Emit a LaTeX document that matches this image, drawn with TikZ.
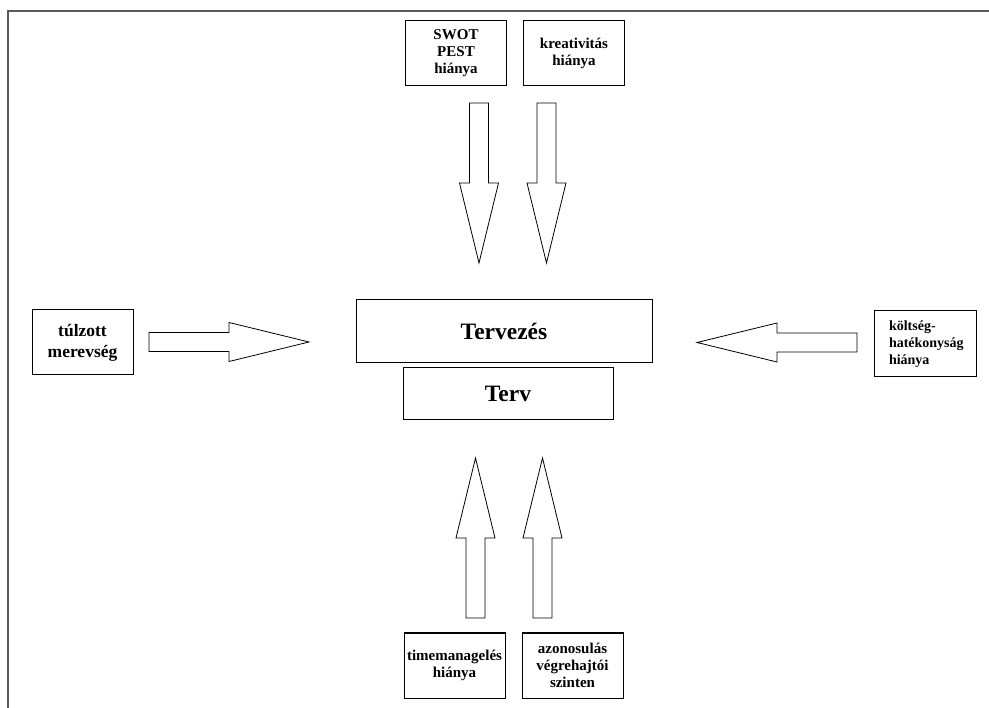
\documentclass[tikz,border=0pt]{standalone}
\usepackage{fontspec}
\setmainfont{Liberation Serif}
\usetikzlibrary{positioning}
\newcommand{\fatarrow}[2]{%
  \draw[fatline,shift={(#1)},rotate=#2] (0,-9.5) -- (80,-9.5) -- (80,-19.5)
    -- (160,0) -- (80,19.5) -- (80,9.5) -- (0,9.5) -- cycle;
}

\begin{document}
\begin{tikzpicture}[x=1pt,y=-1pt,
  every node/.style={font=\bfseries\fontsize{15}{17}\selectfont},
  box/.style={draw,line width=1pt,align=center,inner sep=2pt,
    minimum width=101pt,minimum height=65pt},
  bigbox/.style={draw,line width=1pt,font=\bfseries\fontsize{23.5}{27}\selectfont},
  fatline/.style={line width=0.8pt}]
  \useasboundingbox (0,0) rectangle (989,708);
  \draw[line width=2pt,black!65] (989,11) -- (8,11) -- (8,708);
  % boxes
  \node[box] (swot) at (456,53.5) {SWOT\\PEST\\hiánya};
  \node[box] (kreativ) at (574,53.5) {kreativitás\\hiánya};
  \node[bigbox,minimum width=296pt,minimum height=63pt] (tervezes) at (504,331.5) {Tervezés};
  \node[bigbox,minimum width=210pt,minimum height=52pt] (terv) at (508,394) {Terv};
  \node[box,font=\bfseries\fontsize{17.5}{21}\selectfont] (merev) at (82.5,342.5) {túlzott\\merevség};
  \node[box,align=left,text width=72pt,inner xsep=15pt,minimum height=66pt,
    font=\bfseries\fontsize{14}{17}\selectfont] (koltseg) at (925,344) {költség-\\hatékonyság\\hiánya};
  \node[box] (time) at (454.5,665.5) {timemanagelés\\hiánya};
  \node[box] (azon) at (572.5,665.5) {azonosulás\\végrehajtói\\szinten};
  % arrows
  \coordinate (d1) at (479,103);
  \coordinate (d2) at (546.5,103);
  \coordinate (u1) at (475.5,618);
  \coordinate (u2) at (542.5,618);
  \coordinate (r1) at (149,342);
  \coordinate (l1) at (857,342.5);
  \fatarrow{d1}{-90}
  \fatarrow{d2}{-90}
  \fatarrow{u1}{90}
  \fatarrow{u2}{90}
  \fatarrow{r1}{0}
  \fatarrow{l1}{180}
\end{tikzpicture}
\end{document}
